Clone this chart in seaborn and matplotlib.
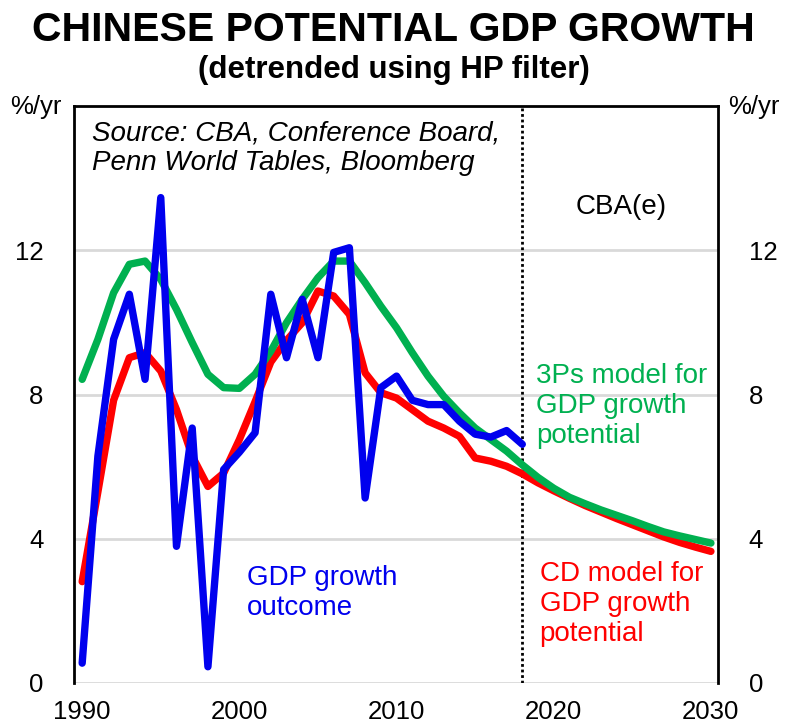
import numpy as np
import pandas as pd
import matplotlib
matplotlib.use("Agg")
import matplotlib.pyplot as plt
import seaborn as sns

years_hist = list(range(1990, 2019))
years_all = list(range(1990, 2031))

gdp_outcome = [0.55, 6.29, 9.53, 10.78, 8.42, 13.46, 3.79, 7.07, 0.45, 5.92,
               6.40, 6.94, 10.78, 9.02, 10.64, 9.02, 11.94, 12.07, 5.13, 8.19,
               8.51, 7.84, 7.72, 7.72, 7.26, 6.90, 6.82, 7.00, 6.62]

cd_model = [2.81, 5.30, 7.84, 9.02, 9.16, 8.65, 7.58, 6.29, 5.45, 5.82,
            6.75, 7.80, 8.90, 9.50, 9.99, 10.87, 10.73, 10.22, 8.60, 8.05,
            7.90, 7.58, 7.26, 7.07, 6.84, 6.24, 6.15, 6.01, 5.80, 5.55,
            5.33, 5.12, 4.92, 4.74, 4.56, 4.39, 4.22, 4.05, 3.90, 3.77, 3.65]

ps3_model = [8.42, 9.53, 10.82, 11.61, 11.70, 11.19, 10.36, 9.44, 8.56, 8.19,
             8.17, 8.56, 9.20, 9.99, 10.64, 11.24, 11.70, 11.70, 11.10, 10.45,
             9.85, 9.16, 8.51, 7.95, 7.49, 7.07, 6.75, 6.43, 6.05, 5.70,
             5.40, 5.15, 4.97, 4.80, 4.65, 4.50, 4.34, 4.19, 4.08, 3.98, 3.88]

y_ticks = [0, 4, 8, 12]
x_ticks = [1990, 2000, 2010, 2020, 2030]
forecast_start = 2018

df = pd.concat([
    pd.DataFrame({"year": years_all, "value": cd_model, "series": "CD"}),
    pd.DataFrame({"year": years_all, "value": ps3_model, "series": "3Ps"}),
    pd.DataFrame({"year": years_hist, "value": gdp_outcome, "series": "GDP"}),
])

sns.set_style("white")
plt.rcParams['font.family'] = ['Liberation Sans', 'DejaVu Sans']
plt.rcParams['text.color'] = 'black'
plt.rcParams['xtick.color'] = 'black'
plt.rcParams['ytick.color'] = 'black'

fig = plt.figure(figsize=(7.87, 7.26), dpi=100)
ax = fig.add_axes([74/787, 43/726, 644/787, 577/726])

palette = {"CD": "#FF0000", "3Ps": "#00B050", "GDP": "#0000EE"}
for s in ["CD", "3Ps", "GDP"]:
    sns.lineplot(data=df[df.series == s], x="year", y="value", color=palette[s],
                 lw=5.3, ax=ax, solid_capstyle="round", solid_joinstyle="round",
                 legend=False, zorder=3)

ax.set_xlim(1989.48, 2030.45)
ax.set_ylim(0, 16)
ax.set_yticks(y_ticks)
ax.set_xticks(x_ticks)
ax.set_xlabel("")
ax.set_ylabel("")
for yv in y_ticks:
    ax.axhline(yv, color="#D9D9D9", lw=2, zorder=1)

ax.axvline(forecast_start, color="black", ls=(0, (1, 1)), lw=2, zorder=2)

for side in ["left", "right", "top"]:
    ax.spines[side].set_color("black")
    ax.spines[side].set_linewidth(2)
ax.spines["bottom"].set_visible(False)

ax.tick_params(axis="both", length=0, labelsize=18.5, labelcolor="black")
ax.tick_params(axis="x", pad=12)
ax.tick_params(axis="y", labelleft=True, labelright=True, pad=22)

fig.text(0.5, 0.958, "CHINESE POTENTIAL GDP GROWTH", ha="center", va="center",
         fontsize=29.5, fontweight="bold")
fig.text(0.5, 0.903, "(detrended using HP filter)", ha="center", va="center",
         fontsize=22.5, fontweight="bold")
fig.text(36/787, 1 - 107/726, "%/yr", ha="center", va="center", fontsize=18.5)
fig.text(754/787, 1 - 107/726, "%/yr", ha="center", va="center", fontsize=18.5)

ax.text(1990.6, 15.6, "Source: CBA, Conference Board,\nPenn World Tables, Bloomberg",
        ha="left", va="top", fontsize=20, style="italic", linespacing=1.2)
ax.text(2024.3, 13.2, "CBA(e)", ha="center", va="center", fontsize=20)
ax.text(2018.9, 7.67, "3Ps model for\nGDP growth\npotential", ha="left", va="center",
        fontsize=20, color="#00B050", linespacing=1.2)
ax.text(2000.5, 2.5, "GDP growth\noutcome", ha="left", va="center",
        fontsize=20, color="#0000EE", linespacing=1.2)
ax.text(2019.1, 2.19, "CD model for\nGDP growth\npotential", ha="left", va="center",
        fontsize=20, color="#FF0000", linespacing=1.2)

fig.savefig("out.png", dpi=100)
